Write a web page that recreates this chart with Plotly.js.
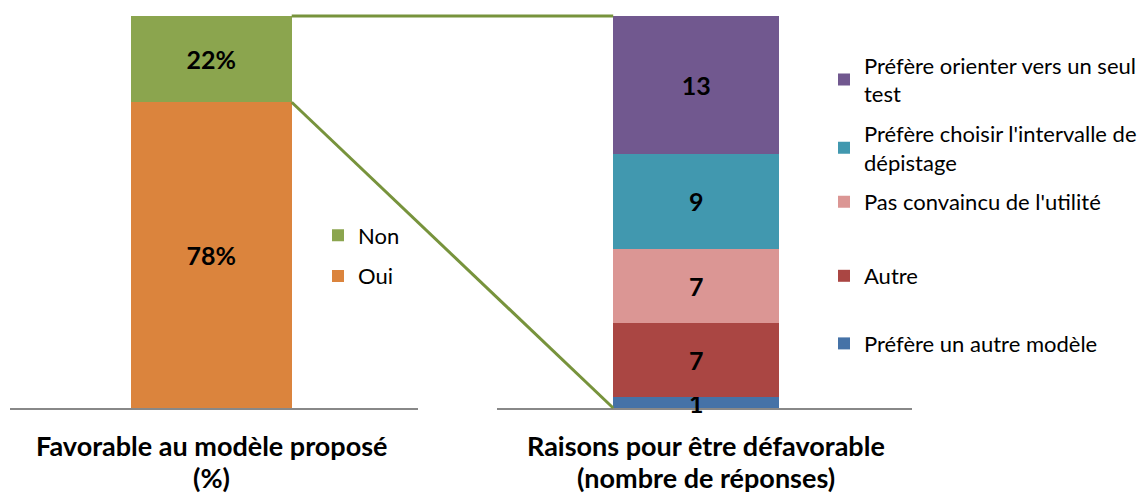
<!DOCTYPE html>
<html>
<head>
<meta charset="utf-8">
<script src="https://cdn.plot.ly/plotly-3.0.1.min.js"></script>
<style>html,body{margin:0;padding:0;background:#fff;}#chart{width:1147px;height:497px;}</style>
</head>
<body>
<div id="chart"></div>
<script>
// ---- data ----
const leftCategory = ['Favorable au modèle proposé'];
const leftNames = ['Oui', 'Non'];
const leftValues = [78, 22];
const leftColors = ['#DB843D', '#8BA54E'];

const rightCategory = ['Raisons pour être défavorable'];
const rightNames = [
  'Préfère un autre modèle',
  'Autre',
  "Pas convaincu de l'utilité",
  "Préfère choisir l'intervalle de dépistage",
  'Préfère orienter vers un seul test'
];
const rightLegendLabels = [
  'Préfère un autre modèle',
  'Autre',
  "Pas convaincu de l'utilité",
  "Préfère choisir l'intervalle de<br>dépistage",
  'Préfère orienter vers un seul<br>test'
];
const rightValues = [1, 7, 7, 9, 13];
const rightColors = ['#4572A7', '#AA4643', '#DB9694', '#4198AF', '#71588F'];
const rightLegendIds = ['legend3', 'legend3', 'legend2', 'legend2', 'legend2'];

const leftTitle = ['Favorable au modèle proposé', '(%)'];
const rightTitle = ['Raisons pour être défavorable', '(nombre de réponses)'];

// ---- styling ----
const W = 1147, H = 497;
const labelFont = {family: 'Lato, sans-serif', size: 25, color: '#000000', weight: 'bold'};
const legendFont = {family: 'Lato, sans-serif', size: 22, color: '#000000'};
const barWidthL = 0.395, barWidthR = 0.4;
const xDomL = [10 / W, 418 / W], xDomR = [497 / W, 912 / W];
const xRangeL = [-0.493, 0.507], xRangeR = [-0.48, 0.52];

const traces = [];
leftNames.forEach((n, i) => {
  traces.push({
    type: 'bar', x: leftCategory, y: [leftValues[i]], name: n,
    text: [leftValues[i] + '%'], textposition: 'inside', insidetextanchor: 'middle',
    constraintext: 'none', textangle: 0, cliponaxis: false,
    textfont: labelFont, insidetextfont: labelFont,
    marker: {color: leftColors[i], line: {width: 0}},
    width: barWidthL, xaxis: 'x', yaxis: 'y',
    legend: 'legend', legendgroup: 'L' + i, legendrank: 100 - i, hoverinfo: 'name+y'
  });
});
rightNames.forEach((n, i) => {
  traces.push({
    type: 'bar', x: rightCategory, y: [rightValues[i]], name: rightLegendLabels[i],
    text: [String(rightValues[i])], textposition: 'inside', insidetextanchor: 'middle',
    constraintext: 'none', textangle: 0, cliponaxis: false,
    textfont: labelFont, insidetextfont: labelFont,
    marker: {color: rightColors[i], line: {width: 0}},
    width: barWidthR, xaxis: 'x2', yaxis: 'y2',
    legend: rightLegendIds[i], legendgroup: 'R' + i, legendrank: 100 - i, hoverinfo: 'y'
  });
});

const leftTotal = leftValues.reduce((a, b) => a + b, 0);
const rightTotal = rightValues.reduce((a, b) => a + b, 0);

// connector geometry from data + axes
function toPaperX(dom, range, v) {
  return dom[0] + (v - range[0]) / (range[1] - range[0]) * (dom[1] - dom[0]);
}
const lRight = toPaperX(xDomL, xRangeL, barWidthL / 2);
const rLeft = toPaperX(xDomR, xRangeR, -barWidthR / 2);
const nonBottom = leftValues[0] / leftTotal; // top of "Oui" segment
const connColor = '#77933C';

const shapes = [
  {type: 'line', xref: 'paper', yref: 'paper', x0: lRight, y0: 1, x1: rLeft, y1: 1,
   line: {color: connColor, width: 3}},
  {type: 'line', xref: 'paper', yref: 'paper', x0: lRight, y0: nonBottom, x1: rLeft, y1: 0,
   line: {color: connColor, width: 3}}
];

const titleFont = {family: 'Lato, sans-serif', size: 27, color: '#000000', weight: 'bold'};
const annotations = [];
[[leftTitle, (xDomL[0] + xDomL[1]) / 2 - 0.002], [rightTitle, (xDomR[0] + xDomR[1]) / 2 + 0.001]].forEach(([t, xc]) => {
  annotations.push({xref: 'paper', yref: 'paper', x: xc, y: -(445 - 408) / 392, text: t[0],
    showarrow: false, xanchor: 'center', yanchor: 'middle', font: titleFont});
  annotations.push({xref: 'paper', yref: 'paper', x: xc, y: -(477 - 408) / 392, text: t[1],
    showarrow: false, xanchor: 'center', yanchor: 'middle', font: titleFont});
});

const axisCommon = {showline: true, linecolor: '#888888', linewidth: 2, showticklabels: false,
  ticks: '', showgrid: false, zeroline: false, fixedrange: true, type: 'category', layer: 'below traces'};

const legendCommon = {font: legendFont, bgcolor: 'rgba(0,0,0,0)', borderwidth: 0,
  traceorder: 'grouped', xanchor: 'left', yanchor: 'middle', xref: 'paper', yref: 'paper',
  itemclick: false, itemdoubleclick: false};

const layout = {
  width: W, height: H,
  margin: {l: 0, r: 0, t: 16, b: 89, autoexpand: false},
  paper_bgcolor: '#ffffff', plot_bgcolor: '#ffffff',
  barmode: 'stack', showlegend: true,
  xaxis: Object.assign({}, axisCommon, {domain: xDomL, range: xRangeL, anchor: 'y'}),
  xaxis2: Object.assign({}, axisCommon, {domain: xDomR, range: xRangeR, anchor: 'y2'}),
  yaxis: {range: [0, leftTotal], visible: false, fixedrange: true, anchor: 'x'},
  yaxis2: {range: [0, rightTotal], visible: false, fixedrange: true, anchor: 'x2'},
  legend: Object.assign({}, legendCommon, {x: 318 / W, y: (408 - 256) / 392, tracegroupgap: 9}),
  legend2: Object.assign({}, legendCommon, {x: 824 / W, y: (408 - 133.5) / 392, tracegroupgap: 8}),
  legend3: Object.assign({}, legendCommon, {x: 824 / W, y: (408 - 310) / 392, tracegroupgap: 36}),
  shapes: shapes,
  annotations: annotations,
  font: {family: 'Lato, sans-serif'}
};

Plotly.newPlot('chart', traces, layout, {displayModeBar: false, staticPlot: false});
</script>
</body>
</html>
